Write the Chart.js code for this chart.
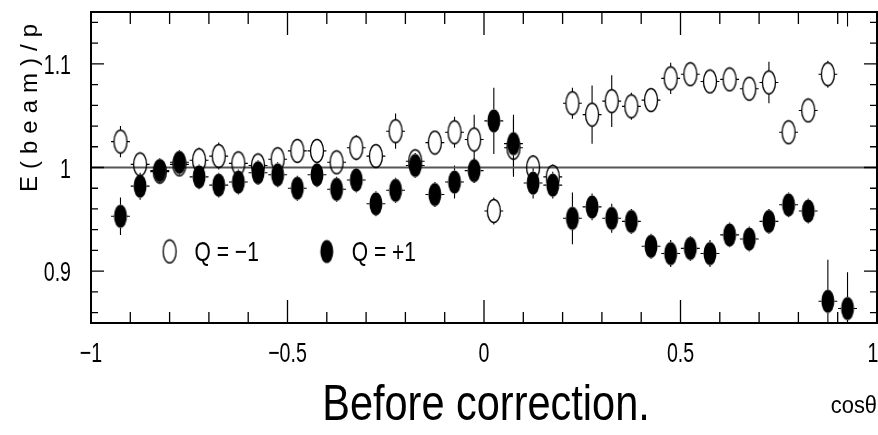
<!DOCTYPE html>
<html>
<head>
<meta charset="utf-8">
<script src="https://cdn.jsdelivr.net/npm/chart.js@4/dist/chart.umd.min.js"></script>
<style>
  html, body { margin: 0; padding: 0; background: #fff; }
  #wrap { width: 878px; height: 435px; position: relative; }
</style>
</head>
<body>
<div id="wrap"><canvas id="chart"></canvas></div>
<script>
// ===============================
// Data
// ===============================
const binCenters = [
  -0.925, -0.875, -0.825, -0.775, -0.725, -0.675, -0.625, -0.575, -0.525, -0.475,
  -0.425, -0.375, -0.325, -0.275, -0.225, -0.175, -0.125, -0.075, -0.025, 0.025,
  0.075, 0.125, 0.175, 0.225, 0.275, 0.325, 0.375, 0.425, 0.475, 0.525,
  0.575, 0.625, 0.675, 0.725, 0.775, 0.825, 0.875, 0.925,
];

// Q = -1 (open markers)
const qMinus = [
  1.025, 1.003, 0.996, 1.003, 1.007, 1.011, 1.004, 1.002, 1.008, 1.016,
  1.016, 1.005, 1.019, 1.011, 1.035, 1.006, 1.024, 1.034, 1.027, 0.958,
  1.019, 1.000, 0.991, 1.062, 1.051, 1.064, 1.059, 1.065, 1.086, 1.090,
  1.083, 1.085, 1.076, 1.082, 1.034, 1.055, 1.090, 1.175,
];
const qMinusErr = [
  0.015, 0.008, 0.008, 0.008, 0.012, 0.013, 0.010, 0.008, 0.010, 0.010,
  0.010, 0.010, 0.012, 0.010, 0.017, 0.010, 0.010, 0.015, 0.024, 0.013,
  0.028, 0.012, 0.012, 0.015, 0.028, 0.025, 0.013, 0.010, 0.015, 0.010,
  0.010, 0.010, 0.010, 0.020, 0.010, 0.010, 0.013, 0.039,
];

// Q = +1 (filled markers)
const qPlus = [
  0.953, 0.982, 0.997, 1.005, 0.991, 0.983, 0.986, 0.995, 0.993, 0.980,
  0.993, 0.979, 0.988, 0.965, 0.978, 1.002, 0.974, 0.986, 0.997, 1.045,
  1.023, 0.985, 0.983, 0.951, 0.962, 0.951, 0.948, 0.924, 0.917, 0.922,
  0.917, 0.935, 0.931, 0.948, 0.964, 0.958, 0.871, 0.864,
];
const qPlusErr = [
  0.018, 0.013, 0.012, 0.012, 0.012, 0.012, 0.012, 0.012, 0.012, 0.012,
  0.012, 0.012, 0.012, 0.012, 0.012, 0.012, 0.012, 0.016, 0.012, 0.032,
  0.028, 0.015, 0.013, 0.025, 0.013, 0.014, 0.012, 0.012, 0.013, 0.012,
  0.013, 0.012, 0.012, 0.012, 0.012, 0.012, 0.040, 0.035,
];

const binHalfWidth = 0.024;
const refLevel = 1;

const xTickLabels = [-1, -0.5, 0, 0.5, 1];
const yTickLabels = [0.9, 1, 1.1];

const yTitle = "E(beam)/p";
const xTitle = "cosθ";
const bottomTitle = "Before correction.";
const legendLabels = ["Q = \u22121", "Q = +1"];

// ===============================
// Look
// ===============================
const FONT = "'Liberation Sans', Arial, sans-serif";
const MARK_W = 13, MARK_H = 23;

function makeEllipse(filled) {
  const c = document.createElement("canvas");
  c.width = MARK_W + 3;
  c.height = MARK_H + 3;
  const g = c.getContext("2d");
  g.beginPath();
  g.ellipse(c.width / 2, c.height / 2, MARK_W / 2, MARK_H / 2, 0, 0, Math.PI * 2);
  if (filled) {
    g.fillStyle = "#000";
    g.fill();
  } else {
    g.lineWidth = 1.3;
    g.strokeStyle = "#000";
    g.stroke();
  }
  return c;
}
const openMark = makeEllipse(false);
const fullMark = makeEllipse(true);

const pts = (vals) => binCenters.map((x, i) => ({ x, y: vals[i] }));

// condensed text: squeeze horizontally around the anchor
function narrowText(ctx, txt, x, y, size, align, squeeze) {
  ctx.save();
  ctx.translate(x, y);
  ctx.scale(squeeze, 1);
  ctx.font = size + "px " + FONT;
  ctx.textAlign = align;
  ctx.fillText(txt, 0, 0);
  ctx.restore();
}

// ===============================
// Plugins
// ===============================
const errorBars = {
  id: "errorBars",
  beforeDatasetsDraw(chart) {
    const { ctx, chartArea: a, scales: { x, y } } = chart;
    ctx.save();
    ctx.beginPath();
    ctx.rect(a.left, a.top, a.right - a.left, a.bottom - a.top);
    ctx.clip();
    ctx.strokeStyle = "#000";
    ctx.lineWidth = 1.1;
    const series = [[qMinus, qMinusErr], [qPlus, qPlusErr]];
    series.forEach(([vals, errs]) => {
      binCenters.forEach((cx, i) => {
        const px = x.getPixelForValue(cx);
        const py = y.getPixelForValue(vals[i]);
        const up = y.getPixelForValue(vals[i] + errs[i]);
        const dn = y.getPixelForValue(vals[i] - errs[i]);
        const l = x.getPixelForValue(cx - binHalfWidth);
        const r = x.getPixelForValue(cx + binHalfWidth);
        ctx.beginPath();
        if (py - up > MARK_H / 2) { ctx.moveTo(px, py - MARK_H / 2); ctx.lineTo(px, up); }
        if (dn - py > MARK_H / 2) { ctx.moveTo(px, py + MARK_H / 2); ctx.lineTo(px, dn); }
        ctx.moveTo(l, py); ctx.lineTo(px - MARK_W / 2, py);
        ctx.moveTo(px + MARK_W / 2, py); ctx.lineTo(r, py);
        ctx.stroke();
      });
    });
    ctx.restore();
  },
};

const frameTicks = {
  id: "frameTicks",
  afterDatasetsDraw(chart) {
    const { ctx, chartArea: a, scales: { x, y } } = chart;
    ctx.save();
    ctx.strokeStyle = "#000";
    ctx.lineWidth = 1.3;
    ctx.beginPath();
    // x ticks (every 0.1, long on the labelled ones)
    for (let k = -10; k <= 10; k++) {
      const px = x.getPixelForValue(k / 10);
      const major = k % 5 === 0;
      ctx.moveTo(px, a.bottom); ctx.lineTo(px, a.bottom - (major ? 23 : 11));
      ctx.moveTo(px, a.top); ctx.lineTo(px, a.top + (major ? 23 : 12));
    }
    // y ticks (every 0.02, long on the labelled ones)
    for (let k = 43; k <= 57; k++) {
      const py = y.getPixelForValue(k / 50);
      const len = k % 5 === 0 ? 13 : 7;
      ctx.moveTo(a.left, py); ctx.lineTo(a.left + len, py);
      ctx.moveTo(a.right, py); ctx.lineTo(a.right - len, py);
    }
    ctx.stroke();
    ctx.lineWidth = 2;
    ctx.strokeRect(a.left, a.top, a.right - a.left, a.bottom - a.top);
    ctx.restore();
  },
  afterDraw(chart) {
    const { ctx, chartArea: a, scales: { x, y } } = chart;
    ctx.save();
    ctx.fillStyle = "#000";

    // tick labels, placed by the scales (last one kept inside the page)
    ctx.textBaseline = "alphabetic";
    x.ticks.forEach((t) => {
      const label = String(t.value).replace("-", "\u2212");
      const px = Math.min(x.getPixelForValue(t.value), chart.width - 5);
      narrowText(ctx, label, px, a.bottom + 39, 28, "center", 0.7);
    });
    y.ticks.forEach((t) => {
      narrowText(ctx, String(t.value), a.left - 20, y.getPixelForValue(t.value) + 10, 28, "right", 0.7);
    });

    // legend inside the plot
    const ly = y.getPixelForValue(0.919);
    [[openMark, -0.8, legendLabels[0]], [fullMark, -0.4, legendLabels[1]]].forEach(([m, lx, txt]) => {
      const px = x.getPixelForValue(lx);
      ctx.drawImage(m, px - m.width / 2, ly - m.height / 2);
      narrowText(ctx, txt, px + 25, ly + 10, 28, "left", 0.75);
    });

    // y title, rotated and letter-spaced
    ctx.save();
    ctx.translate(37, 192);
    ctx.rotate(-Math.PI / 2);
    ctx.font = "24px " + FONT;
    ctx.letterSpacing = "7px";
    ctx.textAlign = "left";
    ctx.fillText(yTitle, 0, 0);
    ctx.restore();

    // x title
    narrowText(ctx, xTitle, a.right, 413, 23, "right", 0.95);

    // caption
    narrowText(ctx, bottomTitle, 486, 420, 50, "center", 0.83);
    ctx.restore();
  },
};

const noPad = (s) => {
  s.paddingTop = 0; s.paddingBottom = 0; s.paddingLeft = 0; s.paddingRight = 0;
};

// ===============================
// Chart
// ===============================
new Chart(document.getElementById("chart"), {
  type: "scatter",
  data: {
    datasets: [
      { label: legendLabels[1], data: pts(qPlus), pointStyle: fullMark, pointRadius: 7, order: 0 },
      { label: legendLabels[0], data: pts(qMinus), pointStyle: openMark, pointRadius: 7, order: 1 },
      {
        type: "line", label: "ref", data: [{ x: -1, y: refLevel }, { x: 1, y: refLevel }],
        borderColor: "#555", borderWidth: 1.8, pointRadius: 0, order: 2,
      },
    ],
  },
  options: {
    responsive: true,
    maintainAspectRatio: false,
    animation: false,
    layout: { autoPadding: false, padding: { top: 12, right: 1, left: 0, bottom: 0 } },
    plugins: { legend: { display: false }, tooltip: { enabled: false } },
    scales: {
      x: {
        type: "linear", min: -1, max: 1,
        afterBuildTicks: (s) => { s.ticks = xTickLabels.map((v) => ({ value: v })); },
        afterFit: (s) => { s.height = 112; noPad(s); },
        grid: { display: false, drawTicks: false },
        border: { display: false },
        ticks: { display: false },
      },
      y: {
        type: "linear", min: 0.85, max: 1.15,
        afterBuildTicks: (s) => { s.ticks = yTickLabels.map((v) => ({ value: v })); },
        afterFit: (s) => { s.width = 91; noPad(s); },
        grid: { display: false, drawTicks: false },
        border: { display: false },
        ticks: { display: false },
      },
    },
  },
  plugins: [errorBars, frameTicks],
});
</script>
</body>
</html>
